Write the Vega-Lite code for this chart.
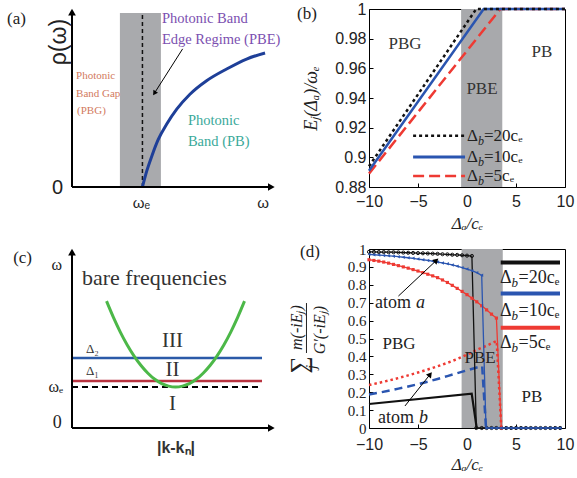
{
"$schema":"https://vega.github.io/schema/vega-lite/v6.json",
"background":"white",
"padding":{"left":7,"top":0,"right":0,"bottom":0},
"bounds":"flush",
"columns":2,
"spacing":{"row":62,"column":94},
"config":{"view":{"stroke":null},"point":{"opacity":1}},
"concat":[
{
"width":203,"height":178,
"encoding":{"x":{"field":"x","type":"quantitative","scale":{"domain":[0,10],"nice":false,"zero":false},"axis":null},"y":{"field":"y","type":"quantitative","scale":{"domain":[0,10],"nice":false,"zero":false},"axis":null}},
"layer":[
{"data":{"values":[{"x":2.36,"x2":4.38,"y":0,"y2":9.77}]},"mark":{"type":"rect","fill":"#a9aaad"},"encoding":{"x2":{"field":"x2"},"y2":{"field":"y2"}}},
{"data":{"values":[{"x":3.47,"y":0,"y2":9.77}]},"mark":{"type":"rule","color":"#111111","strokeWidth":1.5,"strokeDash":[4,3]},"encoding":{"y2":{"field":"y2"}}},
{"data":{"values":[{"x":3.47,"y":0},{"x":3.68,"y":0.89},{"x":3.93,"y":1.73},{"x":4.25,"y":2.67},{"x":4.66,"y":3.52},{"x":5.16,"y":4.37},{"x":5.81,"y":5.21},{"x":6.63,"y":5.97},{"x":7.62,"y":6.63},{"x":8.6,"y":7.19},{"x":9.51,"y":7.53}]},"mark":{"type":"line","color":"#1e3f98","strokeWidth":3,"interpolate":"monotone"}},
{"data":{"values":[{"x":0,"x2":9.75,"y":0}]},"mark":{"type":"rule","color":"#000000","strokeWidth":2},"encoding":{"x2":{"field":"x2"}}},
{"data":{"values":[{"x":0,"y":0,"y2":9.75}]},"mark":{"type":"rule","color":"#000000","strokeWidth":2},"encoding":{"y2":{"field":"y2"}}},
{"data":{"values":[{"x":9.82,"y":0}]},"mark":{"type":"point","shape":"triangle-right","filled":true,"color":"#000000","size":60,"opacity":1}},
{"data":{"values":[{"x":0,"y":9.82}]},"mark":{"type":"point","shape":"triangle-up","filled":true,"color":"#000000","size":60,"opacity":1}},
{"data":{"values":[{"x":5.45,"y":7.76,"x2":4.06,"y2":5.27}]},"mark":{"type":"rule","color":"#000000","strokeWidth":1},"encoding":{"x2":{"field":"x2"},"y2":{"field":"y2"}}},
{"data":{"values":[{"x":4.06,"y":5.27}]},"mark":{"type":"point","shape":"triangle-up","filled":true,"color":"#000000","size":30,"angle":213,"opacity":1}},
{"data":{"values":[{"x":4.43,"y":9.43,"t":"Photonic Band"},{"x":4.43,"y":8.25,"t":"Edge Regime (PBE)"}]},"mark":{"type":"text","font":"Liberation Serif","fontSize":14.5,"color":"#7b4fb0","align":"left","baseline":"middle"},"encoding":{"text":{"field":"t"}}},
{"data":{"values":[{"x":0.2,"y":6.21,"t":"Photonic"},{"x":0.2,"y":5.25,"t":"Band Gap"},{"x":0.25,"y":4.29,"t":"(PBG)"}]},"mark":{"type":"text","font":"Liberation Serif","fontSize":11,"color":"#d27a5e","align":"left","baseline":"middle"},"encoding":{"text":{"field":"t"}}},
{"data":{"values":[{"x":5.71,"y":3.73,"t":"Photonic"},{"x":5.71,"y":2.54,"t":"Band  (PB)"}]},"mark":{"type":"text","font":"Liberation Serif","fontSize":14.5,"color":"#3aa99a","align":"left","baseline":"middle"},"encoding":{"text":{"field":"t"}}},
{"data":{"values":[{"x":-0.64,"y":8.14,"t":"ρ(ω)"}]},"mark":{"type":"text","font":"Liberation Sans","fontSize":23,"color":"#222222","angle":270,"align":"center","baseline":"middle"},"encoding":{"text":{"field":"t"}}},
{"data":{"values":[{"x":-0.44,"y":-0.06,"t":"0"}]},"mark":{"type":"text","font":"Liberation Sans","fontSize":20,"color":"#222222","align":"right","baseline":"middle"},"encoding":{"text":{"field":"t"}}},
{"data":{"values":[{"x":3.42,"y":-0.9,"t":"ωₑ"},{"x":9.41,"y":-0.9,"t":"ω"}]},"mark":{"type":"text","font":"Liberation Sans","fontSize":15,"color":"#222222","align":"center","baseline":"middle"},"encoding":{"text":{"field":"t"}}},
{"data":{"values":[{"x":-3.2,"y":9.45,"t":"(a)"}]},"mark":{"type":"text","font":"Liberation Serif","fontSize":17,"color":"#222222","align":"left","baseline":"middle"},"encoding":{"text":{"field":"t"}}}
]
},
{
"width":196,"height":178,"view":{"stroke":"#000000","strokeWidth":1},
"encoding":{
"x":{"field":"x","type":"quantitative","scale":{"domain":[-10,10],"nice":false,"zero":false},"axis":{"values":[-10,-5,0,5,10],"labelFont":"Liberation Sans","labelFontSize":16,"labelColor":"#222222","labelFlush":false,"labelOverlap":false,"tickSize":-4,"tickColor":"#000000","domain":false,"grid":false,"labelPadding":10,"title":"Δₐ/cₑ","titleFont":"Liberation Serif","titleFontSize":17,"titleFontStyle":"italic","titleFontWeight":"normal","titleColor":"#222222","titlePadding":6}},
"y":{"field":"y","type":"quantitative","scale":{"domain":[0.88,1],"nice":false,"zero":false},"axis":{"values":[0.88,0.9,0.92,0.94,0.96,0.98,1],"format":"~g","labelFont":"Liberation Sans","labelFontSize":16,"labelColor":"#222222","labelFlush":false,"labelOverlap":false,"tickSize":-4,"tickColor":"#000000","domain":false,"grid":false,"labelPadding":7,"title":"Eⱼ(Δₐ)/ωₑ","titleFont":"Liberation Serif","titleFontSize":18,"titleFontStyle":"italic","titleFontWeight":"normal","titleColor":"#222222","titlePadding":14}}
},
"layer":[
{"data":{"values":[{"x":-0.6,"x2":3.6,"y":0.88,"y2":1}]},"mark":{"type":"rect","fill":"#a8a9ac"},"encoding":{"x2":{"field":"x2"},"y2":{"field":"y2"}}},
{"data":{"values":[{"x":-10,"y":0.889},{"x":3.4,"y":1},{"x":10,"y":1}]},"mark":{"type":"line","color":"#ee3a33","strokeWidth":2.5,"strokeDash":[11,5]}},
{"data":{"values":[{"x":-10,"y":0.891},{"x":1.7,"y":1},{"x":10,"y":1}]},"mark":{"type":"line","color":"#2a55b0","strokeWidth":2.5}},
{"data":{"values":[{"x":-10,"y":0.894},{"x":0.94,"y":1},{"x":10,"y":1}]},"mark":{"type":"line","color":"#111111","strokeWidth":2.5,"strokeDash":[3,3]}},
{"data":{"values":[{"x":-5.5,"x2":-0.2,"y":0.9146}]},"mark":{"type":"rule","color":"#111111","strokeWidth":2.5,"strokeDash":[3,3]},"encoding":{"x2":{"field":"x2"}}},
{"data":{"values":[{"x":-5.5,"x2":-0.2,"y":0.9003}]},"mark":{"type":"rule","color":"#2a55b0","strokeWidth":3},"encoding":{"x2":{"field":"x2"}}},
{"data":{"values":[{"x":-5.5,"x2":-0.2,"y":0.8875}]},"mark":{"type":"rule","color":"#ee3a33","strokeWidth":2.5,"strokeDash":[11,5]},"encoding":{"x2":{"field":"x2"}}},
{"data":{"values":[{"x":0,"y":0.9146,"t":"=20cₑ"},{"x":0,"y":0.9003,"t":"=10cₑ"},{"x":0,"y":0.8875,"t":"=5cₑ"}]},"layer":[
{"mark":{"type":"text","text":"Δ","font":"Liberation Serif","fontSize":17,"color":"#222222","align":"left","baseline":"middle"}},
{"mark":{"type":"text","text":"b","font":"Liberation Serif","fontSize":12,"fontStyle":"italic","color":"#222222","align":"left","baseline":"middle","dx":11,"dy":5}},
{"mark":{"type":"text","font":"Liberation Serif","fontSize":17,"color":"#222222","align":"left","baseline":"middle","dx":17},"encoding":{"text":{"field":"t"}}}
]},
{"data":{"values":[{"x":-6.33,"y":0.9763,"t":"PBG"},{"x":1.53,"y":0.9458,"t":"PBE"},{"x":7.65,"y":0.9708,"t":"PB"}]},"mark":{"type":"text","font":"Liberation Serif","fontSize":17,"color":"#333333","align":"center","baseline":"middle"},"encoding":{"text":{"field":"t"}}},
{"data":{"values":[{"x":-17.35,"y":0.9966,"t":"(b)"}]},"mark":{"type":"text","font":"Liberation Serif","fontSize":17,"color":"#222222","align":"left","baseline":"middle"},"encoding":{"text":{"field":"t"}}}
]
},
{
"width":203,"height":179,
"encoding":{"x":{"field":"x","type":"quantitative","scale":{"domain":[0,10],"nice":false,"zero":false},"axis":null},"y":{"field":"y","type":"quantitative","scale":{"domain":[0,10],"nice":false,"zero":false},"axis":null}},
"layer":[
{"data":{"values":[{"x":0,"x2":9.36,"y":3.91}]},"mark":{"type":"rule","color":"#2b5aa8","strokeWidth":2.5},"encoding":{"x2":{"field":"x2"}}},
{"data":{"values":[{"x":0,"x2":9.36,"y":2.63}]},"mark":{"type":"rule","color":"#b83340","strokeWidth":2.5},"encoding":{"x2":{"field":"x2"}}},
{"data":{"values":[{"x":0,"x2":9.36,"y":2.29}]},"mark":{"type":"rule","color":"#000000","strokeWidth":2,"strokeDash":[6,4]},"encoding":{"x2":{"field":"x2"}}},
{"data":{"values":[{"x":1.7,"y":7.09},{"x":2.04,"y":6.18},{"x":2.38,"y":5.36},{"x":2.72,"y":4.64},{"x":3.06,"y":4.02},{"x":3.4,"y":3.49},{"x":3.74,"y":3.06},{"x":4.08,"y":2.72},{"x":4.42,"y":2.48},{"x":4.76,"y":2.34},{"x":5.1,"y":2.29},{"x":5.44,"y":2.34},{"x":5.78,"y":2.48},{"x":6.12,"y":2.72},{"x":6.46,"y":3.06},{"x":6.8,"y":3.49},{"x":7.14,"y":4.02},{"x":7.48,"y":4.64},{"x":7.82,"y":5.36},{"x":8.16,"y":6.18},{"x":8.5,"y":7.09}]},"mark":{"type":"line","color":"#4cb848","strokeWidth":3,"interpolate":"monotone"}},
{"data":{"values":[{"x":0,"x2":9.75,"y":0}]},"mark":{"type":"rule","color":"#000000","strokeWidth":2},"encoding":{"x2":{"field":"x2"}}},
{"data":{"values":[{"x":0,"y":0,"y2":9.75}]},"mark":{"type":"rule","color":"#000000","strokeWidth":2},"encoding":{"y2":{"field":"y2"}}},
{"data":{"values":[{"x":9.82,"y":0}]},"mark":{"type":"point","shape":"triangle-right","filled":true,"color":"#000000","size":60,"opacity":1}},
{"data":{"values":[{"x":0,"y":9.82}]},"mark":{"type":"point","shape":"triangle-up","filled":true,"color":"#000000","size":60,"opacity":1}},
{"data":{"values":[{"x":-2.9,"y":9.5,"t":"(c)"}]},"mark":{"type":"text","font":"Liberation Serif","fontSize":17,"color":"#222222","align":"left","baseline":"middle"},"encoding":{"text":{"field":"t"}}},
{"data":{"values":[{"x":-0.49,"y":9.1,"t":"ω"},{"x":-0.44,"y":2.29,"t":"ωₑ"}]},"mark":{"type":"text","font":"Liberation Serif","fontSize":16,"color":"#222222","align":"right","baseline":"middle"},"encoding":{"text":{"field":"t"}}},
{"data":{"values":[{"x":-0.5,"y":0.28,"t":"0"}]},"mark":{"type":"text","font":"Liberation Serif","fontSize":18,"color":"#222222","align":"right","baseline":"middle"},"encoding":{"text":{"field":"t"}}},
{"data":{"values":[{"x":0.49,"y":8.38,"t":"bare frequencies"}]},"mark":{"type":"text","font":"Liberation Serif","fontSize":22,"color":"#333333","align":"left","baseline":"middle"},"encoding":{"text":{"field":"t"}}},
{"data":{"values":[{"x":4.95,"y":4.86,"t":"III"},{"x":4.95,"y":3.24,"t":"II"},{"x":4.95,"y":1.34,"t":"I"}]},"mark":{"type":"text","font":"Liberation Serif","fontSize":21,"color":"#333333","align":"center","baseline":"middle"},"encoding":{"text":{"field":"t"}}},
{"data":{"values":[{"x":0.69,"y":4.41,"t":"Δ₂"},{"x":0.69,"y":3.18,"t":"Δ₁"}]},"mark":{"type":"text","font":"Liberation Serif","fontSize":13,"color":"#333333","align":"left","baseline":"middle"},"encoding":{"text":{"field":"t"}}},
{"data":{"values":[{"x":5.12,"y":-1.12,"t":"|k-kₙ|"}]},"mark":{"type":"text","font":"Liberation Sans","fontSize":16,"fontWeight":"bold","color":"#333333","align":"center","baseline":"middle"},"encoding":{"text":{"field":"t"}}}
]
},
{
"width":196,"height":179,"view":{"stroke":"#000000","strokeWidth":1},
"encoding":{
"x":{"field":"x","type":"quantitative","scale":{"domain":[-10,10],"nice":false,"zero":false},"axis":{"values":[-10,-5,0,5,10],"labelFont":"Liberation Sans","labelFontSize":16,"labelColor":"#222222","labelFlush":false,"labelOverlap":false,"tickSize":-4,"tickColor":"#000000","domain":false,"grid":false,"labelPadding":12,"title":"Δₐ/cₑ","titleFont":"Liberation Serif","titleFontSize":17,"titleFontStyle":"italic","titleFontWeight":"normal","titleColor":"#222222","titlePadding":4}},
"y":{"field":"y","type":"quantitative","scale":{"domain":[0,1],"nice":false,"zero":false},"axis":{"values":[0,0.1,0.2,0.3,0.4,0.5,0.6,0.7,0.8,0.9,1],"format":"~g","labelFont":"Liberation Serif","labelFontSize":15,"labelColor":"#222222","labelFlush":false,"labelOverlap":false,"tickSize":-4,"tickColor":"#000000","domain":false,"grid":false,"labelPadding":7,"title":null}}
},
"layer":[
{"data":{"values":[{"x":-0.55,"x2":3.65,"y":0,"y2":1}]},"mark":{"type":"rect","fill":"#a8a9ac"},"encoding":{"x2":{"field":"x2"},"y2":{"field":"y2"}}},
{"data":{"values":[{"x":-10,"y":0.134},{"x":0.48,"y":0.192},{"x":0.99,"y":0}]},"mark":{"type":"line","color":"#111111","strokeWidth":2.2}},
{"data":{"values":[{"x":-10,"y":0.187},{"x":-9,"y":0.197},{"x":-8,"y":0.208},{"x":-7,"y":0.22},{"x":-6,"y":0.232},{"x":-5,"y":0.245},{"x":-4,"y":0.259},{"x":-3,"y":0.274},{"x":-2,"y":0.29},{"x":-1,"y":0.306},{"x":0,"y":0.322},{"x":1,"y":0.338},{"x":1.55,"y":0.345},{"x":1.94,"y":0}]},"mark":{"type":"line","color":"#2a55b0","strokeWidth":2.5,"strokeDash":[8,5]}},
{"data":{"values":[{"x":-10,"y":0.24},{"x":-9,"y":0.252},{"x":-8,"y":0.265},{"x":-7,"y":0.279},{"x":-6,"y":0.294},{"x":-5,"y":0.31},{"x":-4,"y":0.327},{"x":-3,"y":0.345},{"x":-2,"y":0.364},{"x":-1,"y":0.385},{"x":0,"y":0.41},{"x":1,"y":0.436},{"x":2,"y":0.46},{"x":3.03,"y":0.486},{"x":3.5,"y":0}]},"mark":{"type":"line","color":"#ee3a33","strokeWidth":2.5,"strokeDash":[2.5,3]}},
{"data":{"values":[{"x":-10,"y":0.984},{"x":-9.5,"y":0.984},{"x":-9,"y":0.983},{"x":-8.5,"y":0.983},{"x":-8,"y":0.982},{"x":-7.5,"y":0.982},{"x":-7,"y":0.981},{"x":-6.5,"y":0.98},{"x":-6,"y":0.979},{"x":-5.5,"y":0.978},{"x":-5,"y":0.977},{"x":-4.5,"y":0.976},{"x":-4,"y":0.975},{"x":-3.5,"y":0.974},{"x":-3,"y":0.973},{"x":-2.5,"y":0.971},{"x":-2,"y":0.97},{"x":-1.5,"y":0.968},{"x":-1,"y":0.967},{"x":-0.5,"y":0.965},{"x":0,"y":0.963},{"x":0.5,"y":0.961},{"x":0.95,"y":0},{"x":1.5,"y":0},{"x":2,"y":0},{"x":2.5,"y":0},{"x":3,"y":0},{"x":3.5,"y":0},{"x":4,"y":0},{"x":4.5,"y":0},{"x":5,"y":0},{"x":5.5,"y":0},{"x":6,"y":0},{"x":6.5,"y":0},{"x":7,"y":0},{"x":7.5,"y":0},{"x":8,"y":0},{"x":8.5,"y":0},{"x":9,"y":0},{"x":9.5,"y":0}]},"layer":[
{"mark":{"type":"line","color":"#111111","strokeWidth":1.3}},
{"mark":{"type":"point","shape":"circle","filled":false,"color":"#111111","size":10,"strokeWidth":1,"opacity":1}}
]},
{"data":{"values":[{"x":-10,"y":0.94},{"x":-9.5,"y":0.936},{"x":-9,"y":0.932},{"x":-8.5,"y":0.927},{"x":-8,"y":0.921},{"x":-7.5,"y":0.914},{"x":-7,"y":0.907},{"x":-6.5,"y":0.9},{"x":-6,"y":0.893},{"x":-5.5,"y":0.885},{"x":-5,"y":0.877},{"x":-4.5,"y":0.868},{"x":-4,"y":0.859},{"x":-3.5,"y":0.85},{"x":-3,"y":0.84},{"x":-2.5,"y":0.827},{"x":-2,"y":0.813},{"x":-1.5,"y":0.797},{"x":-1,"y":0.78},{"x":-0.5,"y":0.763},{"x":0,"y":0.745},{"x":0.5,"y":0.725},{"x":1,"y":0.705},{"x":1.5,"y":0.683},{"x":2,"y":0.66},{"x":2.5,"y":0.636},{"x":3,"y":0.614},{"x":3.5,"y":0}]},"layer":[
{"mark":{"type":"line","color":"#ee3a33","strokeWidth":1.3}},
{"mark":{"type":"point","shape":"square","filled":true,"color":"#ee3a33","size":10,"opacity":1}}
]},
{"data":{"values":[{"x":-10,"y":0.97},{"x":-9.5,"y":0.968},{"x":-9,"y":0.966},{"x":-8.5,"y":0.964},{"x":-8,"y":0.962},{"x":-7.5,"y":0.96},{"x":-7,"y":0.957},{"x":-6.5,"y":0.954},{"x":-6,"y":0.951},{"x":-5.5,"y":0.948},{"x":-5,"y":0.944},{"x":-4.5,"y":0.94},{"x":-4,"y":0.936},{"x":-3.5,"y":0.932},{"x":-3,"y":0.927},{"x":-2.5,"y":0.922},{"x":-2,"y":0.917},{"x":-1.5,"y":0.911},{"x":-1,"y":0.904},{"x":-0.5,"y":0.896},{"x":0,"y":0.888},{"x":0.5,"y":0.879},{"x":1,"y":0.868},{"x":1.5,"y":0.853},{"x":1.94,"y":0},{"x":2.5,"y":0},{"x":3,"y":0},{"x":3.5,"y":0},{"x":4,"y":0},{"x":4.5,"y":0},{"x":5,"y":0},{"x":5.5,"y":0},{"x":6,"y":0},{"x":6.5,"y":0},{"x":7,"y":0},{"x":7.5,"y":0},{"x":8,"y":0},{"x":8.5,"y":0},{"x":9,"y":0},{"x":9.5,"y":0}]},"layer":[
{"mark":{"type":"line","color":"#2a55b0","strokeWidth":1.3}},
{"mark":{"type":"point","shape":"triangle-left","filled":true,"color":"#2a55b0","size":12,"opacity":1}}
]},
{"data":{"values":[{"x":3.44,"x2":9.49,"y":0.924}]},"mark":{"type":"rule","color":"#111111","strokeWidth":4},"encoding":{"x2":{"field":"x2"}}},
{"data":{"values":[{"x":3.44,"x2":9.49,"y":0.752}]},"mark":{"type":"rule","color":"#2a55b0","strokeWidth":4},"encoding":{"x2":{"field":"x2"}}},
{"data":{"values":[{"x":3.44,"x2":9.49,"y":0.56}]},"mark":{"type":"rule","color":"#ee3a33","strokeWidth":4},"encoding":{"x2":{"field":"x2"}}},
{"data":{"values":[{"x":3.37,"y":0.84,"t":"=20cₑ"},{"x":3.37,"y":0.654,"t":"=10cₑ"},{"x":3.37,"y":0.477,"t":"=5cₑ"}]},"layer":[
{"mark":{"type":"text","text":"Δ","font":"Liberation Serif","fontSize":18,"color":"#222222","align":"left","baseline":"middle"}},
{"mark":{"type":"text","text":"b","font":"Liberation Serif","fontSize":13,"fontStyle":"italic","color":"#222222","align":"left","baseline":"middle","dx":11.5,"dy":5}},
{"mark":{"type":"text","font":"Liberation Serif","fontSize":18,"color":"#222222","align":"left","baseline":"middle","dx":18.5},"encoding":{"text":{"field":"t"}}}
]},
{"data":{"values":[{"x":-6.94,"y":0.469,"t":"PBG"},{"x":1.33,"y":0.393,"t":"PBE"},{"x":6.63,"y":0.173,"t":"PB"}]},"mark":{"type":"text","font":"Liberation Serif","fontSize":17,"color":"#222222","align":"center","baseline":"middle"},"encoding":{"text":{"field":"t"}}},
{"data":{"values":[{"x":-9.39,"y":0.698,"l":"a"},{"x":-9.08,"y":0.056,"l":"b"}]},"layer":[
{"mark":{"type":"text","text":"atom","font":"Liberation Serif","fontSize":18,"color":"#222222","align":"left","baseline":"middle"}},
{"mark":{"type":"text","font":"Liberation Serif","fontSize":18,"fontStyle":"italic","color":"#222222","align":"left","baseline":"middle","dx":41},"encoding":{"text":{"field":"l"}}}
]},
{"data":{"values":[{"x":-7.0,"y":0.737,"x2":-3.13,"y2":0.936}]},"mark":{"type":"rule","color":"#000000","strokeWidth":1},"encoding":{"x2":{"field":"x2"},"y2":{"field":"y2"}}},
{"data":{"values":[{"x":-3.13,"y":0.936}]},"mark":{"type":"point","shape":"triangle-up","filled":true,"color":"#000000","size":40,"angle":47,"opacity":1}},
{"data":{"values":[{"x":-6.33,"y":0.123,"x2":-3.76,"y2":0.3}]},"mark":{"type":"rule","color":"#000000","strokeWidth":1},"encoding":{"x2":{"field":"x2"},"y2":{"field":"y2"}}},
{"data":{"values":[{"x":-3.76,"y":0.3}]},"mark":{"type":"point","shape":"triangle-up","filled":true,"color":"#000000","size":40,"angle":38,"opacity":1}},
{"data":{"values":[{"x":-17.3,"y":0.561,"t":"m(-iEⱼ)"},{"x":-15.05,"y":0.547,"t":"G′(-iEⱼ)"}]},"mark":{"type":"text","font":"Liberation Serif","fontSize":16,"fontStyle":"italic","color":"#222222","angle":270,"align":"center","baseline":"middle"},"encoding":{"text":{"field":"t"}}},
{"data":{"values":[{"x":-16.38,"y":0.419,"y2":0.698}]},"mark":{"type":"rule","color":"#222222","strokeWidth":1},"encoding":{"y2":{"field":"y2"}}},
{"data":{"values":[{"x":-17.04,"y":0.352,"t":"∑"}]},"mark":{"type":"text","font":"Liberation Serif","fontSize":24,"color":"#222222","angle":270,"align":"center","baseline":"middle"},"encoding":{"text":{"field":"t"}}},
{"data":{"values":[{"x":-15.87,"y":0.341,"t":"j"}]},"mark":{"type":"text","font":"Liberation Serif","fontSize":15,"fontStyle":"italic","color":"#222222","angle":270,"align":"center","baseline":"middle"},"encoding":{"text":{"field":"t"}}},
{"data":{"values":[{"x":-17.04,"y":0.985,"t":"(d)"}]},"mark":{"type":"text","font":"Liberation Serif","fontSize":17,"color":"#222222","align":"left","baseline":"middle"},"encoding":{"text":{"field":"t"}}}
]
}
]
}
